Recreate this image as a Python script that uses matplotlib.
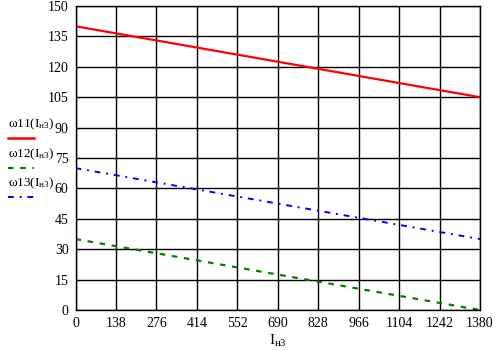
import matplotlib
matplotlib.use("Agg")
import matplotlib.pyplot as plt
import numpy as np

# data
current = [0, 1380]          # I_н3
omega11 = [140, 105]
omega12 = [35, 0]
omega13 = [70, 35]

x_ticks = np.arange(0, 1381, 138)
y_ticks = np.arange(0, 151, 15)

plt.rcParams["font.family"] = ["Liberation Serif", "DejaVu Serif"]
plt.rcParams["mathtext.fontset"] = "custom"
plt.rcParams["mathtext.rm"] = "Liberation Serif"
plt.rcParams["mathtext.it"] = "Liberation Serif"

W, H = 497, 351
fig = plt.figure(figsize=(W / 100, H / 100), dpi=100)
ax = fig.add_axes([75.5 / W, 1 - 310 / H, (480 - 75.5) / W, (310 - 6) / H])

ax.plot(current, omega11, color="#ff0000", linewidth=1.6)
ax.plot(current, omega12, color="#008000", linewidth=1.6, linestyle=(0, (2.5, 3)))
ax.plot(current, omega13, color="#0000ff", linewidth=1.4, linestyle=(0, (3, 3, 1, 3)))

ax.set_xlim(0, 1380)
ax.set_ylim(0, 150)
ax.set_xticks(x_ticks)
ax.set_yticks(y_ticks)
ax.grid(True, color="black", linewidth=1.0)
for s in ax.spines.values():
    s.set_linewidth(1.0)
ax.tick_params(length=0, labelsize=10, pad=5)

ax.set_xlabel(r"$\mathrm{I_{н3}}$", fontsize=11, labelpad=2)

# legend drawn at the left, outside the axes (Mathcad style)
labels = [r"$\mathrm{\omega 11(I_{н3})}$", r"$\mathrm{\omega 12(I_{н3})}$",
          r"$\mathrm{\omega 13(I_{н3})}$"]
styles = [dict(color="#ff0000", linewidth=1.8, linestyle="-"),
          dict(color="#008000", linewidth=1.6, linestyle=(0, (2.5, 3))),
          dict(color="#0000ff", linewidth=1.4, linestyle=(0, (3, 3, 1, 3)))]
text_y = [124, 154, 183]
line_y = [138, 168, 197]
for lab, st, ty, ly in zip(labels, styles, text_y, line_y):
    fig.text(8 / W, 1 - ty / H, lab, fontsize=9.5, va="center", ha="left")
    fig.add_artist(plt.Line2D([8 / W, 34 / W], [1 - ly / H, 1 - ly / H], **st))

fig.savefig("out.png", dpi=100)
